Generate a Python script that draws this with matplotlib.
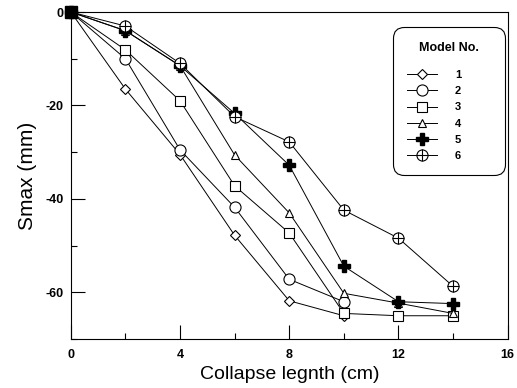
import matplotlib.pyplot as plt
from matplotlib.ticker import MultipleLocator

plt.rcParams['font.family'] = ['Liberation Sans', 'DejaVu Sans']
plt.rcParams['axes.unicode_minus'] = False

x_m1 = [0, 2, 4, 6, 8, 10]
y_m1 = [0, -16.5, -30.5, -47.8, -61.8, -65.0]
x_m2 = [0, 2, 4, 6, 8, 10]
y_m2 = [0, -10.0, -29.5, -41.8, -57.2, -62.0]
x_m3 = [0, 2, 4, 6, 8, 10, 12, 14]
y_m3 = [0, -8.1, -19.0, -37.2, -47.3, -64.5, -65.0, -65.0]
x_m4 = [0, 2, 4, 6, 8, 10, 12, 14]
y_m4 = [0, -4.0, -11.5, -30.6, -43.0, -60.2, -62.3, -64.5]
x_m5 = [0, 2, 4, 6, 8, 10, 12, 14]
y_m5 = [0, -4.0, -11.5, -21.7, -32.8, -54.4, -62.0, -62.4]
x_m6 = [0, 2, 4, 6, 8, 10, 12, 14]
y_m6 = [0, -3.0, -11.0, -22.4, -27.8, -42.4, -48.4, -58.7]

labels = ['1', '2', '3', '4', '5', '6']

fig = plt.figure(figsize=(5.17, 3.88), dpi=100)
ax = fig.add_axes([0.137, 0.126, 0.845, 0.843])

lw = 0.7
common = dict(color='black', lw=lw, mfc='white', mec='black', mew=0.8,
              clip_on=False)
h1, = ax.plot(x_m1, y_m1, marker='D', ms=5, **common)
h2, = ax.plot(x_m2, y_m2, marker='o', ms=8, **common)
h3, = ax.plot(x_m3, y_m3, marker='s', ms=7, **common)
h4, = ax.plot(x_m4, y_m4, marker='^', ms=6, **common)
h5, = ax.plot(x_m5, y_m5, color='black', lw=lw, marker='P', ms=9,
              mfc='black', mec='black', clip_on=False)
# circle with a cross inside
h6a, = ax.plot(x_m6, y_m6, marker='o', ms=8, **common)
h6b, = ax.plot(x_m6, y_m6, ls='none', marker='+', ms=8, mec='black', mew=0.8,
               clip_on=False)
# origin drawn as a solid block in the original
ax.plot(x_m5[:1], y_m5[:1], ls='none', marker='s', ms=8, mfc='black',
        mec='black', clip_on=False)

ax.set_xlim(0, 16)
ax.set_ylim(-70, 0)
ax.xaxis.set_major_locator(MultipleLocator(4))
ax.xaxis.set_minor_locator(MultipleLocator(2))
ax.yaxis.set_major_locator(MultipleLocator(20))
ax.yaxis.set_minor_locator(MultipleLocator(10))
ax.tick_params(which='both', direction='in', width=0.8)
ax.tick_params(which='major', length=10)
ax.tick_params(which='minor', length=4)
ax.tick_params(axis='x', pad=7)
ax.tick_params(axis='y', pad=5)
for lab in ax.get_xticklabels() + ax.get_yticklabels():
    lab.set_fontweight('bold')
    lab.set_fontsize(9)
for s in ax.spines.values():
    s.set_linewidth(0.8)

ax.set_xlabel('Collapse legnth (cm)', fontsize=14, labelpad=4)
ax.set_ylabel('Smax (mm)', fontsize=15, labelpad=6)

leg = ax.legend([h1, h2, h3, h4, h5, (h6a, h6b)], labels,
                title='Model No.', loc='upper left',
                bbox_to_anchor=(0.737, 0.498, 0.256, 0.456), mode='expand',
                borderaxespad=0, frameon=True, fancybox=True,
                edgecolor='black', framealpha=1,
                handlelength=2.7, borderpad=1.3, labelspacing=0.55,
                handletextpad=1.6, prop={'weight': 'bold', 'size': 8})
leg.get_title().set_fontweight('bold')
leg.get_title().set_fontsize(9)
leg.get_frame().set_linewidth(0.8)
leg.get_frame().set_boxstyle('round,pad=0,rounding_size=1.0')
leg._legend_box.sep = 12

fig.savefig('out.png', dpi=100)
